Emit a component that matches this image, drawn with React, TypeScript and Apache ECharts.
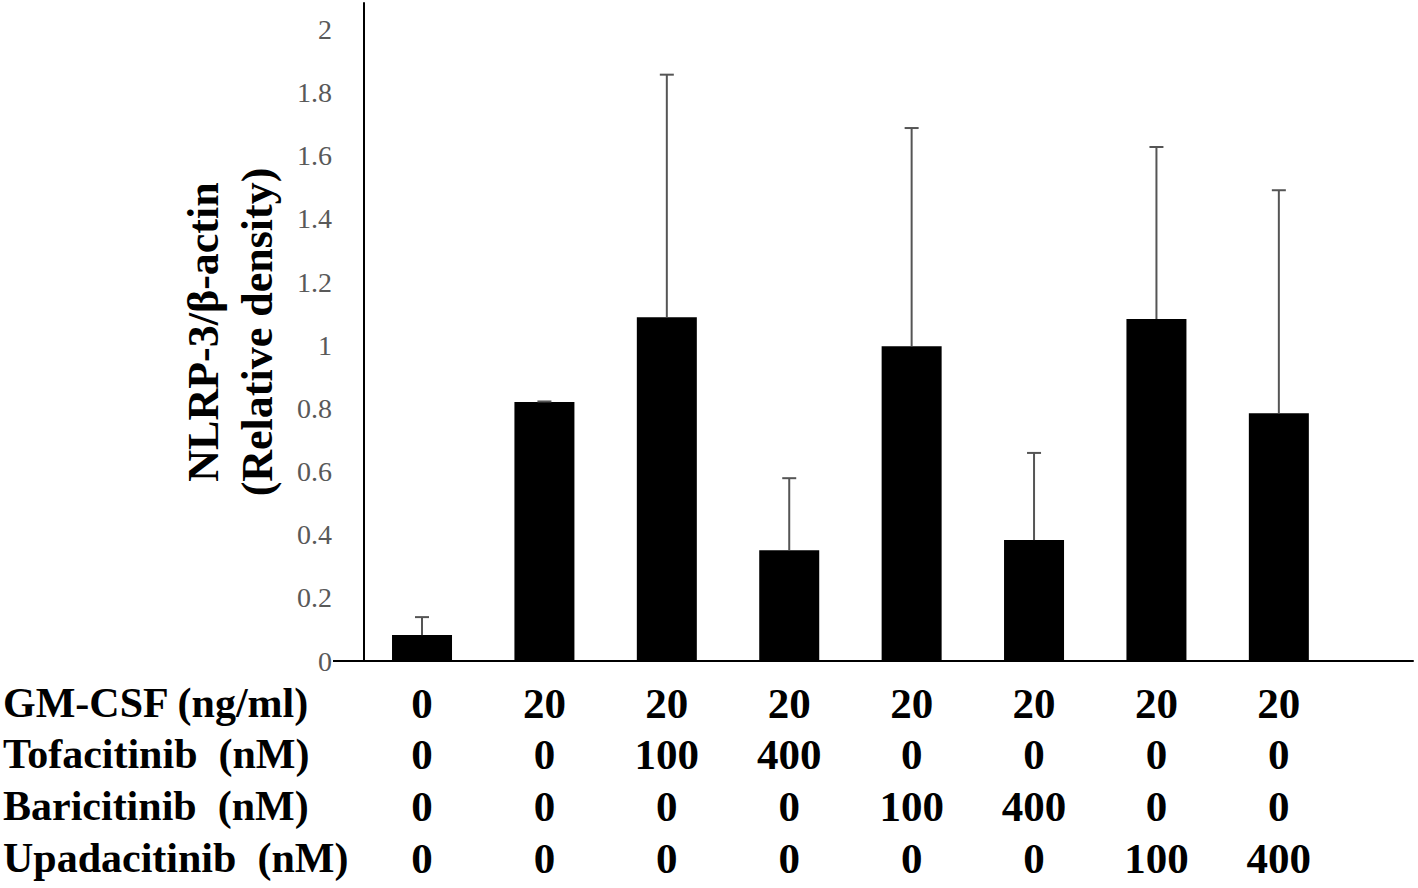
import React, { useEffect, useRef } from "react";
import * as echarts from "echarts";

const positions = [1, 2, 3, 4, 5, 6, 7, 8];
const means = [0.082, 0.82, 1.089, 0.351, 0.997, 0.383, 1.083, 0.785];
const errors = [0.057, 0.002, 0.768, 0.228, 0.691, 0.276, 0.545, 0.706];
const rowLabels = ["GM-CSF (ng/ml)", "Tofacitinib  (nM)", "Baricitinib  (nM)", "Upadacitinib  (nM)"];
const gmcsf = ["0", "20", "20", "20", "20", "20", "20", "20"];
const tofacitinib = ["0", "0", "100", "400", "0", "0", "0", "0"];
const baricitinib = ["0", "0", "0", "0", "100", "400", "0", "0"];
const upadacitinib = ["0", "0", "0", "0", "0", "0", "100", "400"];
const rows = [gmcsf, tofacitinib, baricitinib, upadacitinib];
const yTitle = "NLRP-3/β-actin\n(Relative density)";

const FONT = "'Liberation Serif', 'Times New Roman', serif";

export default function App() {
  const ref = useRef<HTMLDivElement>(null);
  useEffect(() => {
    if (!ref.current) return;
    const chart = echarts.init(ref.current, undefined, { renderer: "svg" });
    const option: any = {
      animation: false,
      backgroundColor: "#ffffff",
      grid: { left: 364, right: 5, top: 3, bottom: 227, containLabel: false },
      xAxis: {
        type: "value",
        min: 0.526,
        max: 9.096,
        axisLine: { show: true, lineStyle: { color: "#000", width: 2 } },
        axisTick: { show: false },
        axisLabel: { show: false },
        splitLine: { show: false },
      },
      yAxis: {
        type: "value",
        min: 0,
        max: 2.084,
        interval: 0.2,
        name: yTitle,
        nameLocation: "middle",
        nameRotate: 90,
        nameGap: 80,
        nameTextStyle: {
          fontFamily: FONT,
          fontWeight: "bold",
          fontSize: 44,
          color: "#000",
          lineHeight: 54,
          align: "center",
        },
        axisLine: { show: true, lineStyle: { color: "#000", width: 2 } },
        axisTick: { show: false },
        splitLine: { show: false },
        axisLabel: {
          fontFamily: FONT,
          fontSize: 28,
          color: "#595959",
          margin: 32,
          showMaxLabel: false,
          formatter: (v: number) => (v > 2.0001 ? "" : String(Math.round(v * 10) / 10)),
        },
      },
      series: [
        {
          type: "bar",
          data: positions.map((p, i) => [p, means[i]]),
          barWidth: 60,
          itemStyle: { color: "#000" },
        },
        {
          type: "custom",
          data: positions.map((p, i) => [p, means[i], means[i] + errors[i]]),
          z: 5,
          renderItem: (params: any, api: any) => {
            const base = api.coord([api.value(0), api.value(1)]);
            const top = api.coord([api.value(0), api.value(2)]);
            const half = 7;
            const style = { stroke: "#555", lineWidth: 2 };
            return {
              type: "group",
              children: [
                { type: "line", shape: { x1: base[0], y1: base[1], x2: top[0], y2: top[1] }, style },
                { type: "line", shape: { x1: top[0] - half, y1: top[1], x2: top[0] + half, y2: top[1] }, style },
              ],
            };
          },
        },
      ],
    };
    chart.setOption(option);

    const rowY = [703, 754, 806, 858];
    const graphics: any[] = [];
    const origin = chart.convertToPixel({ gridIndex: 0 }, [0.526, 0]);
    graphics.push({
      type: "line",
      shape: { x1: 333, y1: origin[1], x2: origin[0], y2: origin[1] },
      style: { stroke: "#000", lineWidth: 2 },
    });
    rowLabels.forEach((lab, r) => {
      graphics.push({
        type: "text",
        x: 3,
        y: rowY[r],
        style: {
          text: lab,
          font: `bold 42px ${FONT}`,
          fill: "#000",
          textAlign: "left",
          textVerticalAlign: "middle",
        },
      });
      rows[r].forEach((v, i) => {
        const px = chart.convertToPixel({ xAxisIndex: 0 }, positions[i]);
        graphics.push({
          type: "text",
          x: px,
          y: rowY[r],
          style: {
            text: v,
            font: `bold 43px ${FONT}`,
            fill: "#000",
            textAlign: "center",
            textVerticalAlign: "middle",
          },
        });
      });
    });
    chart.setOption({ graphic: graphics });
    return () => chart.dispose();
  }, []);
  return (
    <div
      ref={ref}
      style={{ position: "absolute", left: 0, top: 0, width: 1418, height: 888 }}
    />
  );
}
